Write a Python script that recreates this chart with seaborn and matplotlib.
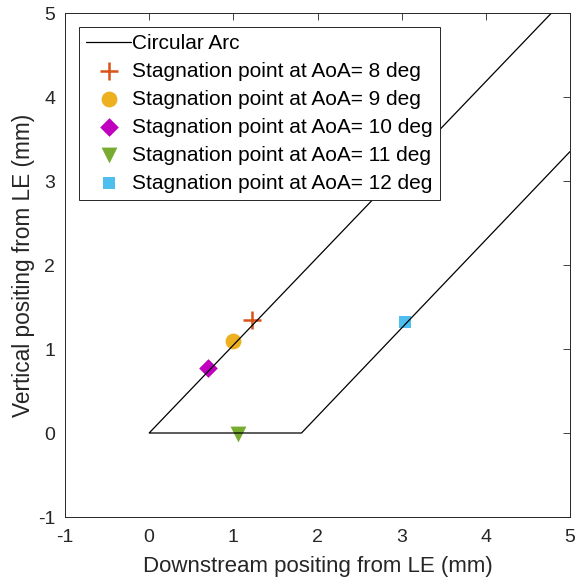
import matplotlib
matplotlib.use("Agg")
import matplotlib.pyplot as plt
import seaborn as sns
import pandas as pd

# Data
arc_x = [4.78, 0.0, 1.81, 5.0]
arc_y = [5.0, 0.0, 0.0, 3.35]
aoa_labels = ["Stagnation point at AoA= 8 deg", "Stagnation point at AoA= 9 deg",
              "Stagnation point at AoA= 10 deg", "Stagnation point at AoA= 11 deg",
              "Stagnation point at AoA= 12 deg"]
stag_x = [1.22, 1.00, 0.70, 1.05, 3.04]
stag_y = [1.35, 1.10, 0.77, -0.01, 1.32]
markers = ["+", "o", "D", "v", "s"]
colors = ["#D95319", "#EDB120", "#BF00BF", "#77AC30", "#4DBEEE"]
sizes = [150, 130, 90, 130, 85]
x_ticks = [-1, 0, 1, 2, 3, 4, 5]
y_ticks = [-1, 0, 1, 2, 3, 4, 5]

sns.set_style("white")
plt.rcParams['font.family'] = ['Liberation Sans', 'DejaVu Sans']
plt.rcParams['font.size'] = 12

fig = plt.figure(figsize=(5.77, 5.88), dpi=100)
ax = fig.add_axes([65/577, 1-517/588, (570-65)/577, (517-13)/588])

arc_df = pd.DataFrame({"x": arc_x, "y": arc_y})
sns.lineplot(data=arc_df, x="x", y="y", sort=False, estimator=None, color="black",
             linewidth=0.9, ax=ax, label="Circular Arc")

for lab, xx, yy, m, c, s in zip(aoa_labels, stag_x, stag_y, markers, colors, sizes):
    kw = dict(marker=m, color=c, s=s, ax=ax, label=lab)
    if m == "+":
        kw["linewidth"] = 1.8
    else:
        kw["linewidth"] = 0
    sns.scatterplot(x=[xx], y=[yy], **kw)

ax.set_xlim(-1, 5)
ax.set_ylim(-1, 5)
ax.set_xticks(x_ticks)
ax.set_yticks(y_ticks)
ax.set_xticklabels([str(t) for t in x_ticks])
ax.set_yticklabels([str(t) for t in y_ticks])
ax.tick_params(direction="in", length=5, width=0.6, top=True, right=True,
               colors="#262626", labelsize=14)
ax.tick_params(axis="x", pad=9)
ax.tick_params(axis="y", pad=7)
for sp in ax.spines.values():
    sp.set_visible(True)
    sp.set_color("#262626")
    sp.set_linewidth(0.7)

ax.set_xlabel("Downstream positing from LE (mm)", fontsize=16, color="#262626", labelpad=7)
ax.set_ylabel("Vertical positing from LE (mm)", fontsize=16.3, color="#262626", labelpad=2)

leg = ax.legend(loc="upper left", bbox_to_anchor=(0.028, 0.973), fontsize=15,
                frameon=True, fancybox=False, edgecolor="#262626", framealpha=1,
                handlelength=2.15, handletextpad=0.05, borderpad=0.35, labelspacing=0.43,
                borderaxespad=0)
leg.get_frame().set_linewidth(0.7)
for t in leg.get_texts():
    t.set_color("black")

fig.savefig("out.png", dpi=100)
